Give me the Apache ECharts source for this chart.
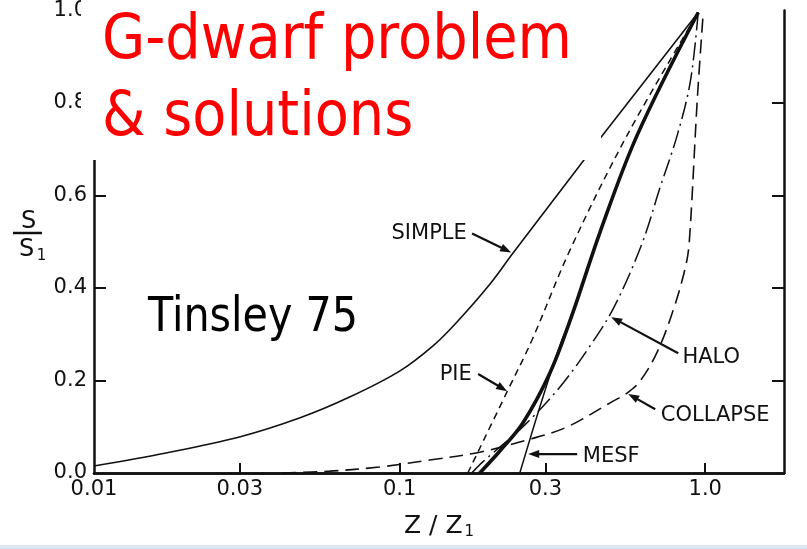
<!DOCTYPE html>
<html>
<head>
<meta charset="utf-8">
<script src="https://cdn.jsdelivr.net/npm/echarts@6/dist/echarts.min.js"></script>
<style>
  html, body { margin: 0; padding: 0; background: #ffffff; }
  #chart { width: 807px; height: 549px; }
</style>
</head>
<body>
<div id="chart"></div>
<script>
// Cumulative distribution of stars S/S1 against metallicity Z/Z1 for several
// chemical-evolution models (log metallicity axis).
const simpleModel   = [[0.01,0.0151],[0.0172,0.0432],[0.0299,0.0778],[0.047,0.1188],[0.0686,0.1642],[0.1,0.2203],[0.1283,0.2743],[0.1538,0.3261],[0.1973,0.4082],[0.2347,0.4752],[0.3892,0.6652],[0.456,0.7257],[0.9484,0.9957]];
const pieModel      = [[0.1671,0],[0.226,0.179],[0.2709,0.287],[0.3609,0.482],[0.5549,0.73],[0.9484,0.9957]];
const observed      = [[0.1829,0],[0.2128,0.0475],[0.2531,0.108],[0.3102,0.216],[0.3664,0.3413],[0.4525,0.5205],[0.5984,0.73],[0.9484,0.9957]];
const mesfModel     = [[0.2473,0],[0.2943,0.164],[0.3398,0.2873],[0.3664,0.3413],[0.4525,0.5205],[0.5984,0.73],[0.9484,0.9957]];
const haloModel     = [[0.1722,0],[0.1871,0.024],[0.2569,0.104],[0.3346,0.186],[0.4261,0.281],[0.5069,0.363],[0.6216,0.497],[0.712,0.618],[0.8095,0.73],[0.8929,0.845],[0.9484,0.9957]];
const collapseModel = [[0.0413,0],[0.059,0.004],[0.086,0.013],[0.1254,0.028],[0.1829,0.045],[0.2609,0.0713],[0.3527,0.0994],[0.4994,0.1555],[0.5549,0.1728],[0.6121,0.1987],[0.696,0.2613],[0.7854,0.352],[0.8598,0.4428],[0.886,0.4968],[0.9414,0.8056],[0.985,0.9957]];

const xTickValues = [0.01, 0.03, 0.1, 0.3, 1.0];
const xTickLabels = ['0.01', '0.03', '0.1', '0.3', '1.0'];
const xInnerTicks = [0.03, 0.1, 0.3, 1.0];
const yInnerTicks = [0.2, 0.4, 0.6, 0.8];

// Curve labels with pointer arrows, in data coordinates
const curveNotes = [
  { text: 'SIMPLE',   at: [0.1249, 0.517], from: [0.1726, 0.518], to: [0.2317, 0.477] },
  { text: 'PIE',      at: [0.1526, 0.212], from: [0.1807, 0.214], to: [0.2248, 0.177] },
  { text: 'HALO',     at: [1.046, 0.249],  from: [0.8158, 0.259], to: [0.4923, 0.337] },
  { text: 'COLLAPSE', at: [1.078, 0.125],  from: [0.686, 0.138],  to: [0.5598, 0.171] },
  { text: 'MESF',     at: [0.4923, 0.036], from: [0.381, 0.041],  to: [0.2634, 0.041] }
];

const INK = '#111111';
const FONT = '"DejaVu Sans", sans-serif';

const chart = echarts.init(document.getElementById('chart'), null, { renderer: 'canvas' });

function curve(name, data, width, dash) {
  return {
    name, type: 'line', data, xAxisIndex: 0, yAxisIndex: 0,
    showSymbol: false, smooth: 0.35, silent: true,
    lineStyle: { color: INK, width, type: dash || 'solid', cap: 'butt' }
  };
}

const option = {
  backgroundColor: '#ffffff',
  animation: false,
  grid: { left: 94, right: 23, top: 10, bottom: 76, containLabel: false },
  xAxis: [
    {
      type: 'log', logBase: 10, min: 0.01, max: 1.81, position: 'bottom',
      axisLine: { show: true, lineStyle: { color: INK, width: 2.5 } },
      axisTick: { show: true, inside: true, length: 10, customValues: xInnerTicks, lineStyle: { color: INK, width: 2 } },
      axisLabel: {
        show: true, customValues: xTickValues, margin: 6, color: INK, fontSize: 21, fontFamily: FONT,
        formatter: v => {
          const i = xTickValues.findIndex(t => Math.abs(Math.log10(t) - Math.log10(v)) < 1e-6);
          return i >= 0 ? xTickLabels[i] : '';
        }
      },
      splitLine: { show: false }, minorTick: { show: false },
      name: '{z|Z / Z}{s|1}', nameLocation: 'middle', nameGap: 40,
      nameTextStyle: {
        rich: {
          z: { fontSize: 25, fontFamily: FONT, color: INK },
          s: { fontSize: 15, fontFamily: FONT, color: INK, padding: [12, 0, 0, 2] }
        }
      }
    },
    {
      type: 'log', logBase: 10, min: 0.01, max: 1.81, position: 'top',
      axisLine: { show: true, lineStyle: { color: INK, width: 2.5 } },
      axisTick: { show: false }, axisLabel: { show: false }, splitLine: { show: false }
    }
  ],
  yAxis: [
    {
      type: 'value', min: 0, max: 1, interval: 0.2, position: 'left',
      axisLine: { show: true, lineStyle: { color: INK, width: 2.5 } },
      axisTick: { show: true, inside: true, length: 12, customValues: yInnerTicks, lineStyle: { color: INK, width: 2 } },
      axisLabel: { show: true, margin: 7, color: INK, fontSize: 21, fontFamily: FONT, formatter: v => v.toFixed(1) },
      splitLine: { show: false }
    },
    {
      type: 'value', min: 0, max: 1, interval: 0.2, position: 'right',
      axisLine: { show: true, lineStyle: { color: INK, width: 2.5 } },
      axisTick: { show: true, inside: true, length: 12, customValues: yInnerTicks, lineStyle: { color: INK, width: 2 } },
      axisLabel: { show: false }, splitLine: { show: false }
    }
  ],
  series: [
    curve('SIMPLE', simpleModel, 1.6),
    curve('PIE', pieModel, 1.5, [7, 5]),
    curve('observed', observed, 3.6),
    curve('MESF', mesfModel, 1.5),
    curve('HALO', haloModel, 1.5, [18, 5, 2, 5]),
    curve('COLLAPSE', collapseModel, 1.6, [14, 7])
  ]
};

chart.setOption(option);

const toPx = p => chart.convertToPixel({ seriesIndex: 0 }, p);

function arrowShapes(from, to) {
  const a = toPx(from), b = toPx(to);
  const dx = b[0] - a[0], dy = b[1] - a[1];
  const len = Math.hypot(dx, dy), ux = dx / len, uy = dy / len;
  const headLen = 11, headHalf = 4;
  const base = [b[0] - ux * headLen, b[1] - uy * headLen];
  return [
    { type: 'line', z: 50, silent: true,
      shape: { x1: a[0], y1: a[1], x2: base[0] + ux * 2, y2: base[1] + uy * 2 },
      style: { stroke: INK, lineWidth: 2.2 } },
    { type: 'polygon', z: 50, silent: true,
      shape: { points: [[b[0], b[1]], [base[0] - uy * headHalf, base[1] + ux * headHalf], [base[0] + uy * headHalf, base[1] - ux * headHalf]] },
      style: { fill: INK } }
  ];
}

const graphics = [];
curveNotes.forEach(n => {
  const c = toPx(n.at);
  graphics.push({
    type: 'text', x: c[0], y: c[1], z: 50, silent: true,
    style: { text: n.text, fill: INK, font: '21px ' + FONT, align: 'center', verticalAlign: 'middle' }
  });
  graphics.push(...arrowShapes(n.from, n.to));
});

// Vertical axis title drawn as a fraction S / S1
graphics.push(
  { type: 'text', x: 28.5, y: 222, z: 50, silent: true,
    style: { text: 'S', fill: INK, font: '24px ' + FONT, align: 'center', verticalAlign: 'middle' } },
  { type: 'line', z: 50, silent: true, shape: { x1: 13, y1: 233, x2: 42, y2: 233 }, style: { stroke: INK, lineWidth: 2.5 } },
  { type: 'text', x: 26.5, y: 250, z: 50, silent: true,
    style: { text: 'S', fill: INK, font: '24px ' + FONT, align: 'center', verticalAlign: 'middle' } },
  { type: 'text', x: 41.5, y: 256, z: 50, silent: true,
    style: { text: '1', fill: INK, font: '15px ' + FONT, align: 'center', verticalAlign: 'middle' } }
);

// Slide overlay: title on a white panel, citation, and bottom band
graphics.push(
  { type: 'rect', z: 100, silent: true, shape: { x: 81, y: 0, width: 520, height: 160 }, style: { fill: '#ffffff' } },
  { type: 'text', x: 102, y: 42, z: 101, scaleX: 0.9, silent: true,
    style: { text: 'G-dwarf problem', fill: '#ff0000', font: '62px ' + FONT, align: 'left', verticalAlign: 'middle' } },
  { type: 'text', x: 102, y: 119, z: 101, scaleX: 0.9, silent: true,
    style: { text: '& solutions', fill: '#ff0000', font: '62px ' + FONT, align: 'left', verticalAlign: 'middle' } },
  { type: 'text', x: 148, y: 319, z: 101, scaleX: 0.86, silent: true,
    style: { text: 'Tinsley 75', fill: '#000000', font: '48px ' + FONT, align: 'left', verticalAlign: 'middle' } },
  { type: 'rect', z: 100, silent: true, shape: { x: 0, y: 545, width: 807, height: 4 }, style: { fill: '#dde7f2' } }
);

chart.setOption({ graphic: { elements: graphics } });
</script>
</body>
</html>
